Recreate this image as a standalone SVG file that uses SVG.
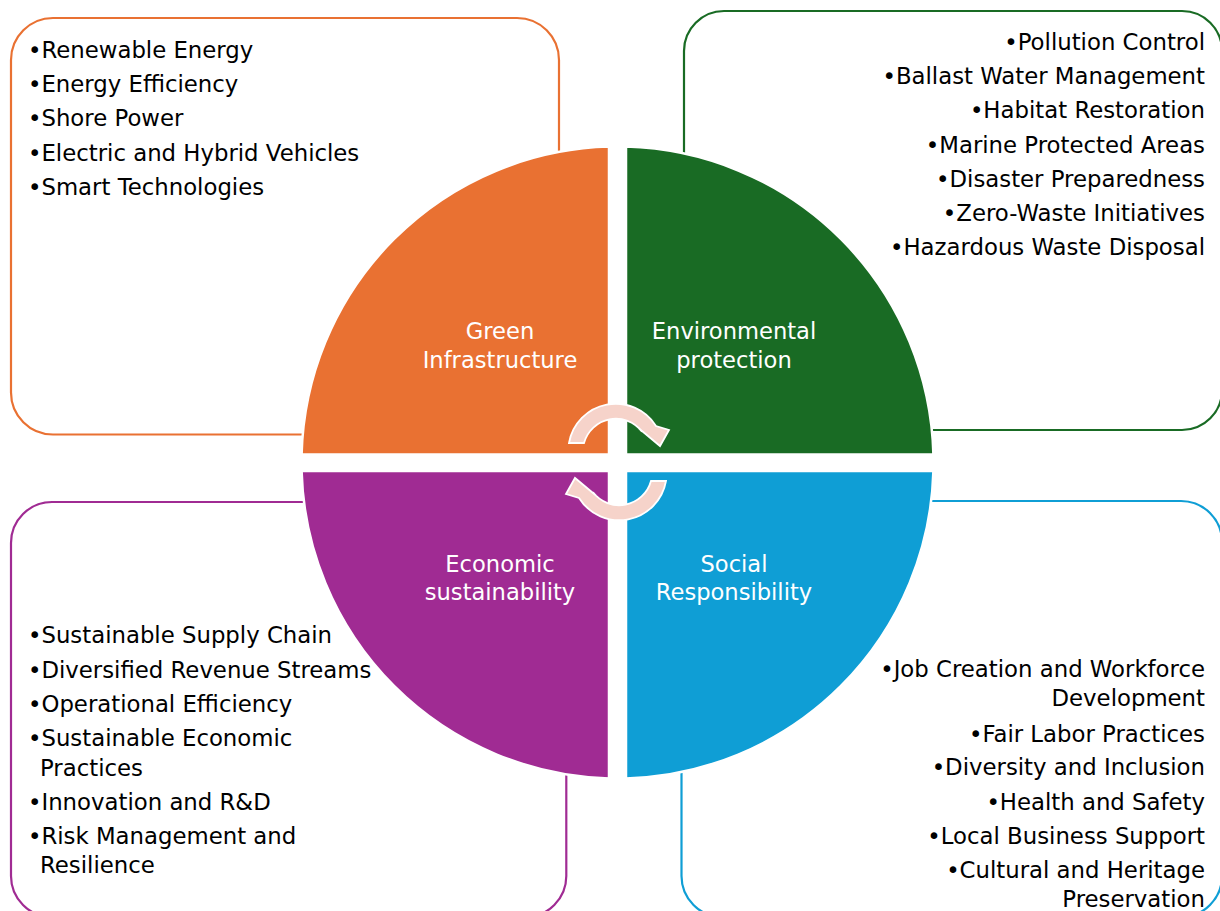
<svg xmlns="http://www.w3.org/2000/svg" width="1220" height="911" viewBox="0 0 1220 911">
  <defs>
    <style>
      .box { fill: #FFFFFF; stroke-width: 2.2; }
      .quad { stroke: #FFFFFF; stroke-width: 2.5; }
      .item { font-family: "DejaVu Sans", "Liberation Sans", sans-serif; font-size: 22.8px; fill: #000000; }
      .right { text-anchor: end; }
      .label { font-family: "DejaVu Sans", "Liberation Sans", sans-serif; font-size: 22.6px; fill: #FFFFFF; text-anchor: middle; }
      .cycle { fill: #F6D3CA; stroke: #FFFFFF; stroke-width: 1.8; stroke-linejoin: miter; }
    </style>
  </defs>

  <rect width="1220" height="911" fill="#FFFFFF"/>

  <!-- outlined text panels behind the circle -->
  <g id="panel-green-infrastructure">
    <rect class="box" x="11" y="18" width="548" height="416.5" rx="42" stroke="#E97132"/>
    <text class="item" x="28" y="57.7">•Renewable Energy</text>
    <text class="item" x="28" y="91.7">•Energy Efficiency</text>
    <text class="item" x="28" y="126">•Shore Power</text>
    <text class="item" x="28" y="160.5">•Electric and Hybrid Vehicles</text>
    <text class="item" x="28" y="194.7">•Smart Technologies</text>
  </g>

  <g id="panel-environmental-protection">
    <rect class="box" x="684" y="11" width="538" height="419" rx="40" stroke="#196B24"/>
    <text class="item right" x="1205" y="50">•Pollution Control</text>
    <text class="item right" x="1205" y="84">•Ballast Water Management</text>
    <text class="item right" x="1205" y="118.3">•Habitat Restoration</text>
    <text class="item right" x="1205" y="152.8">•Marine Protected Areas</text>
    <text class="item right" x="1205" y="186.8">•Disaster Preparedness</text>
    <text class="item right" x="1205" y="220.6">•Zero-Waste Initiatives</text>
    <text class="item right" x="1205" y="255">•Hazardous Waste Disposal</text>
  </g>

  <g id="panel-economic-sustainability">
    <rect class="box" x="11" y="502" width="555.3" height="415" rx="41" stroke="#A02B93"/>
    <text class="item" x="28" y="643.3">•Sustainable Supply Chain</text>
    <text class="item" x="28" y="678">•Diversified Revenue Streams</text>
    <text class="item" x="28" y="711.7">•Operational Efficiency</text>
    <text class="item" x="28" y="746">•Sustainable Economic</text>
    <text class="item" x="40" y="775.7">Practices</text>
    <text class="item" x="28" y="809.5">•Innovation and R&amp;D</text>
    <text class="item" x="28" y="843.5">•Risk Management and</text>
    <text class="item" x="40" y="872.5">Resilience</text>
  </g>

  <g id="panel-social-responsibility">
    <rect class="box" x="681.5" y="501" width="540.5" height="416" rx="41" stroke="#0F9ED5"/>
    <text class="item right" x="1205" y="676.7">•Job Creation and Workforce</text>
    <text class="item right" x="1205" y="706">Development</text>
    <text class="item right" x="1205" y="741.7">•Fair Labor Practices</text>
    <text class="item right" x="1205" y="775.3">•Diversity and Inclusion</text>
    <text class="item right" x="1205" y="809.5">•Health and Safety</text>
    <text class="item right" x="1205" y="843.5">•Local Business Support</text>
    <text class="item right" x="1205" y="877.5">•Cultural and Heritage</text>
    <text class="item right" x="1205" y="906.7">Preservation</text>
  </g>

  <!-- quarter segments of the central disc -->
  <g id="segment-green-infrastructure">
    <path class="quad" fill="#E97132" d="M609,454.5 L609,146.6 A316,316 0 0 0 301.6,454.5 Z"/>
    <text class="label" x="500" y="339.3">Green</text>
    <text class="label" x="500" y="368.3">Infrastructure</text>
  </g>
  <g id="segment-environmental-protection">
    <path class="quad" fill="#196B24" d="M626,454.5 L626,146.6 A316,316 0 0 1 933.4,454.5 Z"/>
    <text class="label" x="734" y="339.3">Environmental</text>
    <text class="label" x="734" y="368.3">protection</text>
  </g>
  <g id="segment-economic-sustainability">
    <path class="quad" fill="#A02B93" d="M609,471 L301.6,471 A316,316 0 0 0 609,778.4 Z"/>
    <text class="label" x="500" y="571.7">Economic</text>
    <text class="label" x="500" y="600">sustainability</text>
  </g>
  <g id="segment-social-responsibility">
    <path class="quad" fill="#0F9ED5" d="M626,471 L933.4,471 A316,316 0 0 1 626,778.4 Z"/>
    <text class="label" x="734" y="571.7">Social</text>
    <text class="label" x="734" y="600">Responsibility</text>
  </g>

  <!-- circular arrows in the middle -->
  <g id="connectors">
    <path id="cycle-top" class="cycle" d="M569,443 A47.5,47.5 0 0 1 656,426 L669,430 L660,446 L639,428.5 L642,431.7 A33,33 0 0 0 584,443 Z"/>
    <path id="cycle-bottom" class="cycle" transform="rotate(180 617.5 462)" d="M569,443 A47.5,47.5 0 0 1 656,426 L669,430 L660,446 L639,428.5 L642,431.7 A33,33 0 0 0 584,443 Z"/>
  </g>
</svg>
